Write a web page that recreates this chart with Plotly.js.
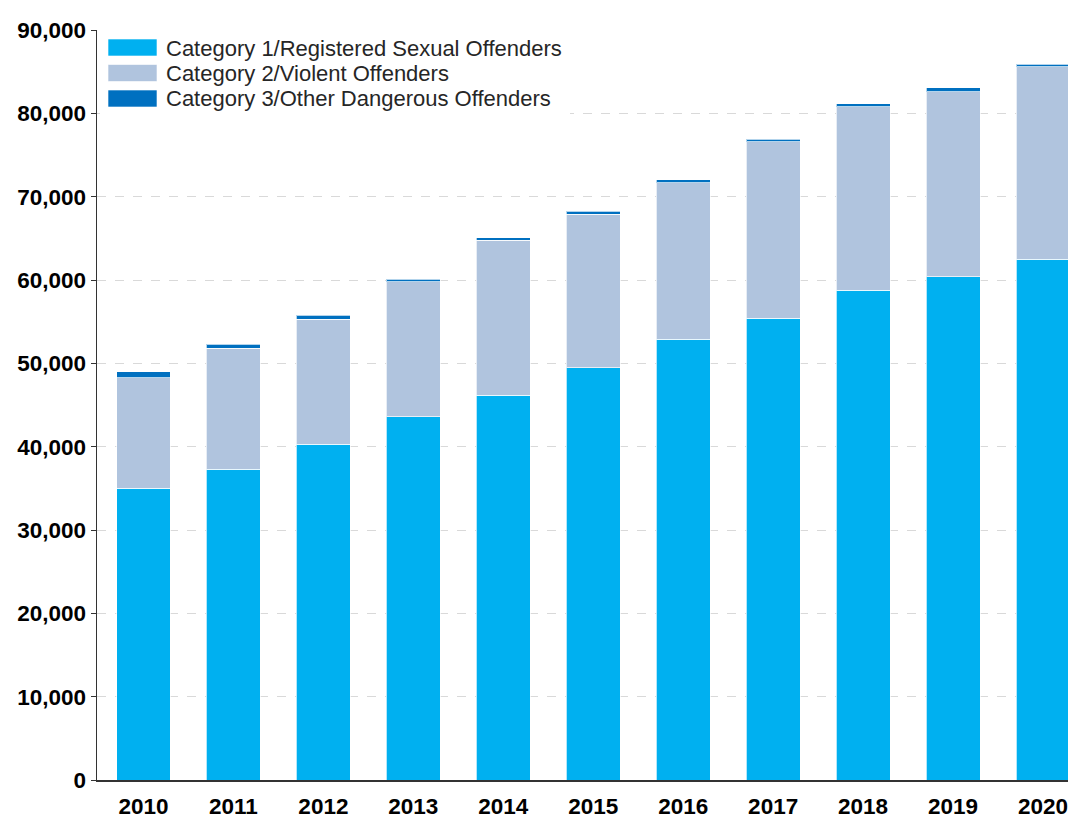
<!DOCTYPE html>
<html>
<head>
<meta charset="utf-8">
<script src="https://cdn.plot.ly/plotly-3.0.1.min.js"></script>
<style>html,body{margin:0;padding:0;background:#fff;}#chart{width:1068px;height:817px;}</style>
</head>
<body>
<div id="chart"></div>
<script>
var years = ["2010","2011","2012","2013","2014","2015","2016","2017","2018","2019","2020"];
var category1 = [35000, 37300, 40300, 43600, 46200, 49500, 52900, 55400, 58800, 60400, 62500];
var category2 = [13300, 14500, 15000, 16200, 18600, 18400, 18800, 21200, 22000, 22200, 23100];
var category3 = [700, 500, 500, 300, 300, 350, 350, 300, 350, 500, 300];
var seriesNames = ["Category 1/Registered Sexual Offenders", "Category 2/Violent Offenders", "Category 3/Other Dangerous Offenders"];
var seriesColors = ["#00B0F0", "#B0C4DE", "#0070C0"];

var W = 1068, H = 817;
var M = {l: 97, r: 0, t: 30, b: 37};
var plotW = W - M.l - M.r, plotH = H - M.t - M.b;
function px(p) { return (p - M.l) / plotW; }       // pixel x -> paper x
function py(p) { return (H - M.b - p) / plotH; }   // pixel y -> paper y

var seriesValues = [category1, category2, category3];
var traces = seriesValues.map(function(vals, i) {
  return {
    type: "bar",
    x: years,
    y: vals,
    name: seriesNames[i],
    marker: {color: seriesColors[i], line: {color: "rgba(255,255,255,0.7)", width: 1}},
    showlegend: false
  };
});

// custom legend (wide swatches as in the reference)
var shapes = [{
  type: "rect", xref: "paper", yref: "paper", layer: "above",
  x0: px(100), x1: px(570), y0: py(32), y1: py(116),
  fillcolor: "#ffffff", line: {width: 0}
}];
var annotations = [];
var rowCenters = [47.5, 73, 98.5];
seriesNames.forEach(function(name, i) {
  var c = rowCenters[i];
  shapes.push({
    type: "rect", xref: "paper", yref: "paper", layer: "above",
    x0: px(108), x1: px(157), y0: py(c - 8.5), y1: py(c + 8.5),
    fillcolor: seriesColors[i], line: {color: "rgba(255,255,255,0.6)", width: 1}
  });
  annotations.push({
    xref: "paper", yref: "paper", x: px(164), y: py(c + 0.5),
    xanchor: "left", yanchor: "middle", showarrow: false,
    text: name,
    font: {family: "Liberation Sans, Arial, sans-serif", size: 22, color: "#262626"}
  });
});

var layout = {
  width: W,
  height: H,
  margin: {l: M.l, r: M.r, t: M.t, b: M.b, pad: 0},
  paper_bgcolor: "#ffffff",
  plot_bgcolor: "#ffffff",
  barmode: "stack",
  bargap: 0.4,
  font: {family: "Liberation Sans, Arial, sans-serif", color: "#000000"},
  showlegend: false,
  shapes: shapes,
  annotations: annotations,
  xaxis: {
    type: "category",
    range: [-0.517, 10.278],
    showgrid: false,
    showline: true,
    linecolor: "#333333",
    linewidth: 1.5,
    ticks: "",
    ticklabelstandoff: 5,
    tickfont: {size: 22.5, color: "#000000", family: "Liberation Sans, Arial, sans-serif", weight: "bold"},
    zeroline: false,
    fixedrange: true
  },
  yaxis: {
    range: [0, 90000],
    dtick: 10000,
    tick0: 0,
    tickformat: ",d",
    showgrid: true,
    gridcolor: "#D9D9D9",
    griddash: "dash",
    gridwidth: 1,
    showline: true,
    linecolor: "#333333",
    linewidth: 1.5,
    ticks: "outside",
    ticklen: 5,
    tickcolor: "#333333",
    tickfont: {size: 22.5, color: "#000000", family: "Liberation Sans, Arial, sans-serif", weight: "bold"},
    zeroline: false,
    fixedrange: true
  }
};

Plotly.newPlot("chart", traces, layout, {displayModeBar: false, staticPlot: true});
</script>
</body>
</html>
